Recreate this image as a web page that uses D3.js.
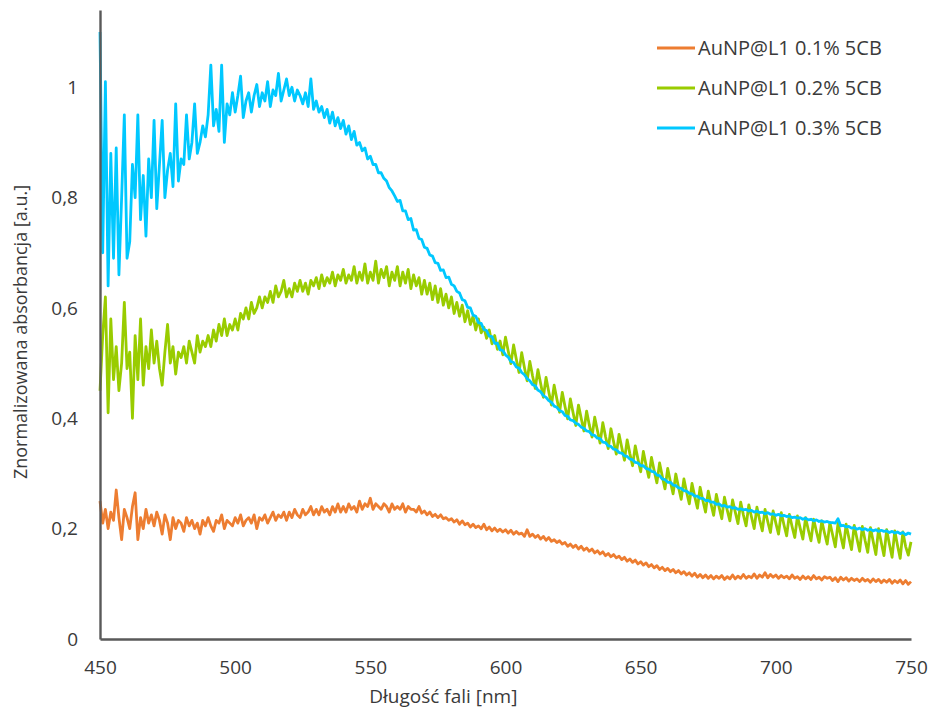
<!DOCTYPE html>
<html>
<head>
<meta charset="utf-8">
<script src="https://cdnjs.cloudflare.com/ajax/libs/d3/7.8.5/d3.min.js"></script>
<style>
  body { margin: 0; background: #fff; }
  #chart text { font-family: 'Open Sans', sans-serif; fill: #3a3a3a; }
</style>
</head>
<body>
<div id="chart"></div>
<script>
// wavelength grid, 1 nm step
const wavelengths = d3.range(450, 751)

// AuNP@L1 0.1% 5CB
const orange01 = [
  0.25, 0.21, 0.235, 0.2, 0.23, 0.215, 0.27, 0.22, 0.18, 0.235,
  0.22, 0.2, 0.24, 0.265, 0.18, 0.22, 0.2, 0.235, 0.21, 0.225,
  0.205, 0.23, 0.215, 0.19, 0.225, 0.21, 0.18, 0.22, 0.2, 0.215,
  0.21, 0.195, 0.22, 0.205, 0.215, 0.2, 0.21, 0.19, 0.215, 0.205,
  0.22, 0.205, 0.195, 0.215, 0.21, 0.225, 0.2, 0.215, 0.21, 0.205,
  0.22, 0.21, 0.225, 0.205, 0.215, 0.22, 0.21, 0.225, 0.2, 0.22,
  0.215, 0.225, 0.21, 0.22, 0.23, 0.215, 0.225, 0.22, 0.23, 0.215,
  0.23, 0.22, 0.235, 0.225, 0.22, 0.235, 0.225, 0.23, 0.24, 0.225,
  0.235, 0.225, 0.24, 0.23, 0.235, 0.225, 0.24, 0.23, 0.245, 0.23,
  0.24, 0.23, 0.245, 0.235, 0.24, 0.23, 0.25, 0.235, 0.245, 0.24,
  0.255, 0.235, 0.245, 0.24, 0.235, 0.245, 0.24, 0.23, 0.245, 0.235,
  0.24, 0.235, 0.245, 0.23, 0.24, 0.235, 0.235, 0.23, 0.24, 0.228,
  0.232, 0.225, 0.23, 0.222, 0.226, 0.22, 0.225, 0.218, 0.22, 0.215,
  0.218, 0.212, 0.216, 0.208, 0.214, 0.207, 0.21, 0.203, 0.208, 0.202,
  0.205, 0.2, 0.208, 0.198, 0.203, 0.196, 0.201, 0.195, 0.199, 0.194,
  0.198, 0.192, 0.197, 0.19, 0.195, 0.19, 0.192, 0.186, 0.198, 0.186,
  0.19, 0.184, 0.188, 0.181, 0.186, 0.179, 0.184, 0.177, 0.18, 0.175,
  0.178, 0.172, 0.175, 0.168, 0.172, 0.166, 0.17, 0.163, 0.168, 0.161,
  0.165, 0.159, 0.163, 0.156, 0.16, 0.154, 0.158, 0.151, 0.155, 0.149,
  0.153, 0.147, 0.15, 0.144, 0.148, 0.141, 0.145, 0.139, 0.143, 0.136,
  0.14, 0.134, 0.138, 0.131, 0.135, 0.129, 0.133, 0.126, 0.13, 0.124,
  0.128, 0.122, 0.126, 0.12, 0.124, 0.118, 0.122, 0.116, 0.12, 0.114,
  0.119, 0.112, 0.117, 0.111, 0.116, 0.11, 0.115, 0.109, 0.114, 0.11,
  0.115, 0.108, 0.113, 0.109, 0.116, 0.109, 0.114, 0.11, 0.117, 0.11,
  0.114, 0.111, 0.118, 0.11, 0.116, 0.112, 0.12, 0.111, 0.117, 0.112,
  0.116, 0.11, 0.115, 0.111, 0.114, 0.109, 0.116, 0.11, 0.113, 0.108,
  0.114, 0.109, 0.113, 0.108, 0.115, 0.109, 0.112, 0.107, 0.113, 0.11,
  0.112, 0.106, 0.111, 0.104, 0.112, 0.107, 0.111, 0.105, 0.11, 0.106,
  0.109, 0.104, 0.11, 0.105, 0.108, 0.103, 0.109, 0.104, 0.108, 0.102,
  0.107, 0.103, 0.108, 0.101, 0.106, 0.102, 0.107, 0.1, 0.106, 0.099,
  0.104
]

// AuNP@L1 0.2% 5CB
const green02 = [
  0.45, 0.55, 0.62, 0.41, 0.58, 0.47, 0.53, 0.45, 0.50, 0.61,
  0.49, 0.52, 0.40, 0.55, 0.47, 0.58, 0.46, 0.53, 0.49, 0.56,
  0.50, 0.54, 0.49, 0.46, 0.52, 0.57, 0.50, 0.53, 0.48, 0.52,
  0.51, 0.53, 0.50, 0.54, 0.52, 0.50, 0.55, 0.52, 0.54, 0.53,
  0.55, 0.53, 0.56, 0.54, 0.57, 0.55, 0.58, 0.55, 0.57, 0.56,
  0.58, 0.56, 0.59, 0.58, 0.60, 0.58, 0.61, 0.59, 0.60, 0.62,
  0.60, 0.62, 0.61, 0.63, 0.61, 0.64, 0.62, 0.63, 0.65, 0.62,
  0.635, 0.62, 0.645, 0.63, 0.65, 0.63, 0.645, 0.625, 0.65, 0.64,
  0.655, 0.635, 0.66, 0.64, 0.655, 0.645, 0.665, 0.64, 0.66, 0.65,
  0.67, 0.645, 0.66, 0.65, 0.675, 0.645, 0.665, 0.65, 0.68, 0.645,
  0.665, 0.65, 0.685, 0.645, 0.67, 0.655, 0.675, 0.64, 0.665, 0.65,
  0.675, 0.64, 0.665, 0.645, 0.67, 0.635, 0.66, 0.64, 0.655, 0.625,
  0.65, 0.625, 0.645, 0.615, 0.64, 0.61, 0.635, 0.605, 0.625, 0.6,
  0.62, 0.59, 0.61, 0.585, 0.605, 0.575, 0.595, 0.57, 0.585, 0.56,
  0.58, 0.555, 0.565, 0.545, 0.56, 0.535, 0.55, 0.525, 0.54, 0.515,
  0.547, 0.522, 0.499, 0.533, 0.507, 0.483, 0.519, 0.492, 0.468, 0.503,
  0.477, 0.454, 0.488, 0.463, 0.438, 0.474, 0.448, 0.424, 0.46, 0.435,
  0.411, 0.447, 0.422, 0.399, 0.435, 0.41, 0.387, 0.424, 0.4, 0.377,
  0.413, 0.388, 0.366, 0.402, 0.378, 0.355, 0.392, 0.367, 0.345, 0.381,
  0.357, 0.335, 0.371, 0.347, 0.324, 0.361, 0.336, 0.314, 0.35, 0.326,
  0.303, 0.34, 0.315, 0.293, 0.329, 0.305, 0.283, 0.319, 0.295, 0.272,
  0.309, 0.285, 0.263, 0.299, 0.275, 0.253, 0.29, 0.266, 0.245, 0.282,
  0.258, 0.237, 0.275, 0.251, 0.23, 0.268, 0.245, 0.224, 0.262, 0.239,
  0.218, 0.257, 0.234, 0.214, 0.252, 0.23, 0.209, 0.248, 0.225, 0.205,
  0.243, 0.221, 0.2, 0.239, 0.216, 0.196, 0.235, 0.213, 0.193, 0.232,
  0.21, 0.19, 0.229, 0.207, 0.187, 0.226, 0.204, 0.184, 0.223, 0.201,
  0.181, 0.22, 0.198, 0.178, 0.217, 0.195, 0.175, 0.214, 0.192, 0.172,
  0.211, 0.189, 0.167, 0.21, 0.187, 0.165, 0.208, 0.184, 0.162, 0.206,
  0.182, 0.159, 0.204, 0.179, 0.157, 0.202, 0.177, 0.153, 0.2, 0.175,
  0.151, 0.198, 0.172, 0.148, 0.196, 0.17, 0.146, 0.194, 0.168, 0.152,
  0.176
]

// AuNP@L1 0.3% 5CB
const blue03 = [
  1.10, 0.70, 1.01, 0.64, 0.88, 0.69, 0.89, 0.66, 0.80, 0.95,
  0.69, 0.72, 0.86, 0.80, 0.95, 0.76, 0.84, 0.73, 0.87, 0.80,
  0.94, 0.78, 0.86, 0.94, 0.80, 0.85, 0.88, 0.82, 0.97, 0.83,
  0.87, 0.86, 0.95, 0.87, 0.90, 0.97, 0.88, 0.90, 0.93, 0.91,
  0.95, 1.04, 0.93, 0.96, 0.92, 1.04, 0.90, 0.97, 0.95, 0.99,
  0.955, 0.985, 1.02, 0.945, 0.975, 0.99, 0.955, 0.985, 1.005, 0.965,
  0.99, 0.975, 1.01, 0.965, 0.995, 0.985, 1.025, 0.975, 0.995, 1.015,
  0.985, 1.0, 0.975, 0.995, 0.985, 0.97, 0.99, 0.965, 1.015, 0.96,
  0.975, 0.955, 0.965, 0.945, 0.96, 0.935, 0.955, 0.93, 0.945, 0.925,
  0.94, 0.915, 0.93, 0.905, 0.92, 0.895, 0.9, 0.885, 0.89, 0.87,
  0.875, 0.86, 0.86, 0.845, 0.845, 0.835, 0.83, 0.818, 0.812, 0.803,
  0.793, 0.795, 0.776, 0.776, 0.76, 0.762, 0.741, 0.742, 0.726, 0.724,
  0.71, 0.708, 0.696, 0.694, 0.682, 0.681, 0.668, 0.669, 0.655, 0.656,
  0.643, 0.64, 0.63, 0.627, 0.615, 0.613, 0.601, 0.6, 0.587, 0.585,
  0.573, 0.572, 0.561, 0.559, 0.549, 0.548, 0.536, 0.536, 0.524, 0.523,
  0.515, 0.511, 0.503, 0.501, 0.493, 0.491, 0.483, 0.479, 0.472, 0.468,
  0.461, 0.459, 0.451, 0.448, 0.441, 0.438, 0.432, 0.429, 0.422, 0.42,
  0.414, 0.412, 0.405, 0.404, 0.397, 0.396, 0.391, 0.389, 0.384, 0.382,
  0.377, 0.376, 0.37, 0.369, 0.364, 0.363, 0.357, 0.356, 0.35, 0.349,
  0.344, 0.343, 0.338, 0.337, 0.332, 0.331, 0.326, 0.325, 0.32, 0.319,
  0.314, 0.314, 0.309, 0.308, 0.304, 0.303, 0.297, 0.296, 0.29, 0.289,
  0.284, 0.284, 0.279, 0.278, 0.274, 0.273, 0.269, 0.268, 0.264, 0.263,
  0.259, 0.259, 0.255, 0.255, 0.251, 0.251, 0.248, 0.248, 0.244, 0.245,
  0.241, 0.242, 0.239, 0.24, 0.237, 0.238, 0.235, 0.236, 0.234, 0.235,
  0.232, 0.233, 0.23, 0.232, 0.229, 0.23, 0.227, 0.229, 0.226, 0.227,
  0.224, 0.226, 0.223, 0.224, 0.222, 0.223, 0.22, 0.221, 0.219, 0.22,
  0.217, 0.219, 0.216, 0.217, 0.214, 0.216, 0.213, 0.214, 0.212, 0.213,
  0.211, 0.211, 0.21, 0.218, 0.205, 0.206, 0.203, 0.204, 0.201, 0.202,
  0.199, 0.201, 0.198, 0.2, 0.197, 0.199, 0.196, 0.198, 0.195, 0.197,
  0.195, 0.196, 0.193, 0.195, 0.192, 0.194, 0.191, 0.193, 0.189, 0.192,
  0.19
]

const seriesNames = ['AuNP@L1 0.1% 5CB', 'AuNP@L1 0.2% 5CB', 'AuNP@L1 0.3% 5CB']
const seriesValues = [orange01, green02, blue03]
const seriesColors = ['#ED7D31', '#99CC00', '#00C8FF']

const xTicks = [450, 500, 550, 600, 650, 700, 750]
const yTicks = [0, 0.2, 0.4, 0.6, 0.8, 1]

class SpectraChart {
  constructor () {
    this.width = 932
    this.height = 711
    this.margin = { top: 10, right: 21, bottom: 72, left: 100 }
    this.container = '#chart'
    this.axisColor = '#595959'
  }

  defineSVG () {
    this.svg = d3.select(this.container)
      .append('svg')
      .attr('width', this.width)
      .attr('height', this.height)

    this.innerW = this.width - this.margin.left - this.margin.right
    this.innerH = this.height - this.margin.top - this.margin.bottom

    this.g = this.svg.append('g')
      .attr('transform', `translate(${this.margin.left},${this.margin.top})`)

    this.xScale = d3.scaleLinear().domain([450, 750]).range([0, this.innerW])
    this.yScale = d3.scaleLinear().domain([0, 1.14]).range([this.innerH, 0])
    return this
  }

  drawLines () {
    const line = d3.line()
      .x(d => this.xScale(d[0]))
      .y(d => this.yScale(d[1]))

    seriesValues.forEach((values, i) => {
      const points = wavelengths.map((w, j) => [w, values[j]])
      this.g.append('path')
        .datum(points)
        .attr('fill', 'none')
        .attr('stroke', seriesColors[i])
        .attr('stroke-width', 2.8)
        .attr('stroke-linejoin', 'round')
        .attr('d', line)
    })
    return this
  }

  drawAxes () {
    const xAxis = d3.axisBottom(this.xScale)
      .tickValues(xTicks).tickSize(0).tickSizeOuter(0).tickPadding(22)
    const yAxis = d3.axisLeft(this.yScale)
      .tickValues(yTicks).tickSize(0).tickSizeOuter(0).tickPadding(22)
      .tickFormat(d => String(d).replace('.', ','))

    const gx = this.g.append('g')
      .attr('transform', `translate(0,${this.innerH})`)
      .call(xAxis)
    const gy = this.g.append('g').call(yAxis)

    ;[gx, gy].forEach(a => {
      a.select('.domain').attr('stroke', this.axisColor).attr('stroke-width', 2.4)
      a.selectAll('text').style('font-size', '19px')
    })
    return this
  }

  setLabels () {
    this.svg.append('text')
      .attr('x', this.margin.left + this.xScale(577))
      .attr('y', 703)
      .attr('text-anchor', 'middle')
      .style('font-size', '19px')
      .text('Długość fali [nm]')

    this.svg.append('text')
      .attr('transform', 'translate(27,332) rotate(-90)')
      .attr('text-anchor', 'middle')
      .style('font-size', '18px')
      .text('Znormalizowana absorbancja [a.u.]')
    return this
  }

  drawLegend () {
    const legend = this.svg.append('g')
      .attr('transform', 'translate(657,48)')

    seriesNames.forEach((name, i) => {
      const row = legend.append('g').attr('transform', `translate(0,${i * 40})`)
      row.append('line')
        .attr('x1', 0).attr('x2', 38)
        .attr('stroke', seriesColors[i])
        .attr('stroke-width', 3)
      row.append('text')
        .attr('x', 41)
        .attr('dy', '0.36em')
        .style('font-size', '20px')
        .text(name)
    })
    return this
  }
}

new SpectraChart()
  .defineSVG()
  .drawLines()
  .drawAxes()
  .setLabels()
  .drawLegend()
</script>
</body>
</html>
